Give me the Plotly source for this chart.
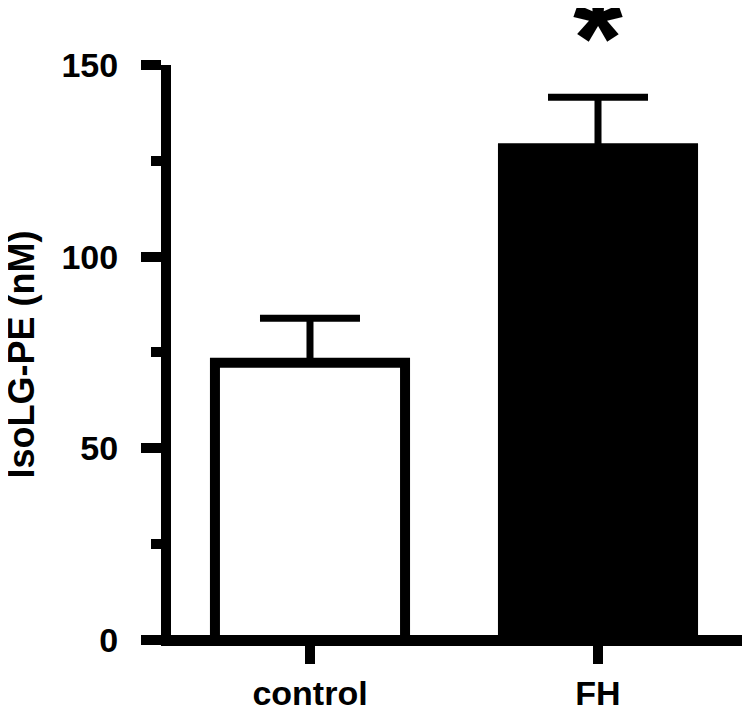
import plotly.graph_objects as go

categories = ["control", "FH"]
means = [72.3, 128.3]
sem = [11.6, 13.3]
fills = ["white", "black"]
y_ticks = [0, 50, 100, 150]
y_title = "IsoLG-PE (nM)"
sig_label = "*"

FONT = "Liberation Sans, Arial, Helvetica, sans-serif"

fig = go.Figure()
fig.add_trace(go.Bar(
    x=categories, y=means,
    width=0.66,
    marker=dict(color=fills, line=dict(color="black", width=10)),
    error_y=dict(type="data", symmetric=False, array=sem, arrayminus=[0, 0],
                 color="black", thickness=7, width=50),
    showlegend=False,
))

# significance marker
fig.add_annotation(x=categories[1], y=1.0984, yref="paper", yshift=44,
                   text=sig_label, showarrow=False, yanchor="top",
                   font=dict(family=FONT, size=128, color="black", weight="bold"))

# y-axis title
fig.add_annotation(x=-0.2613, xref="paper", y=0.5, yref="paper",
                   text=y_title, textangle=-90, showarrow=False,
                   xanchor="center", yanchor="middle",
                   font=dict(family=FONT, size=36, color="black", weight="bold"))

fig.update_layout(
    width=742, height=701,
    margin=dict(l=163, r=5, t=57, b=65),
    paper_bgcolor="white", plot_bgcolor="white",
    font=dict(family=FONT, color="black"),
)
fig.update_xaxes(
    range=[-0.4826, 1.5104],
    automargin=False,
    showline=True, linewidth=2, linecolor="black",
    ticks="outside", ticklen=18, tickwidth=10, tickcolor="black",
    tickfont=dict(family=FONT, size=34, color="black", weight="bold"),
    showgrid=False, zeroline=False,
)
fig.update_yaxes(
    range=[-1.05, 150],
    automargin=False,
    tickvals=y_ticks,
    showline=True, linewidth=10, linecolor="black",
    zeroline=True, zerolinewidth=10, zerolinecolor="black",
    ticks="outside", ticklen=20, tickwidth=10, tickcolor="black",
    minor=dict(tickvals=[25, 75, 125], ticks="outside", ticklen=10, tickwidth=10, tickcolor="black"),
    tickfont=dict(family=FONT, size=34, color="black", weight="bold"),
    ticklabelstandoff=16,
    showgrid=False,
)

fig.write_html("out.html")
